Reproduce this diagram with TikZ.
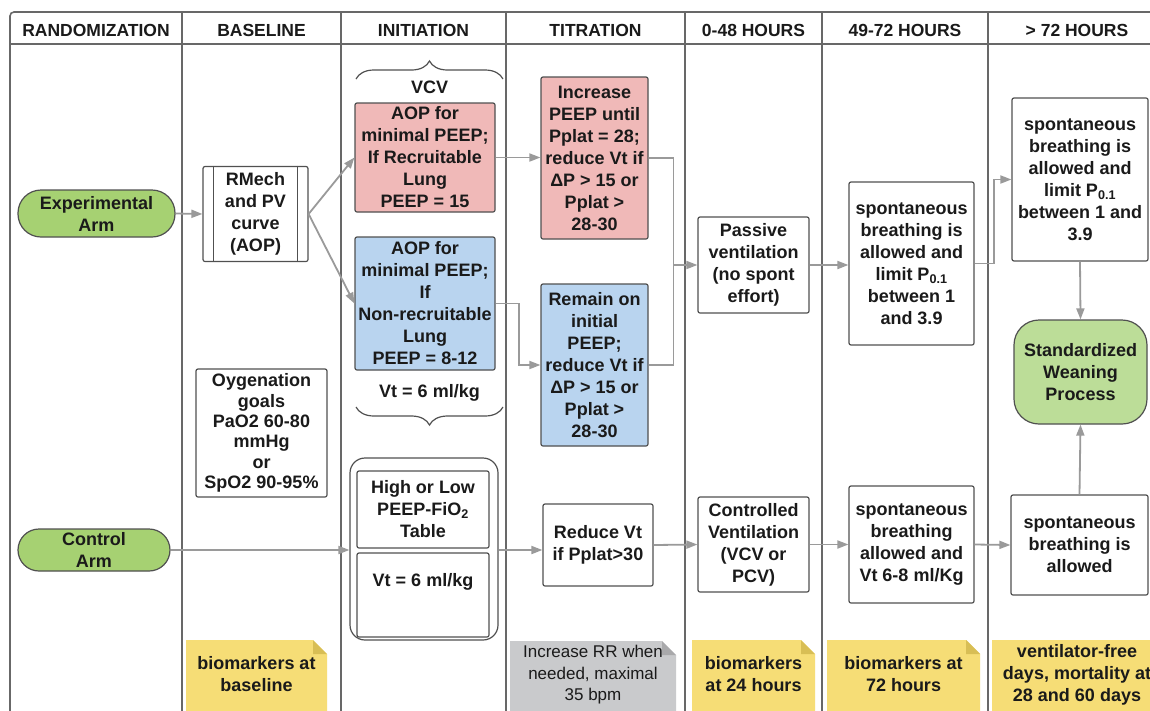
\documentclass[tikz,border=0pt]{standalone}
\usepackage{fontspec}
\setmainfont{Liberation Sans}
\usetikzlibrary{arrows.meta,decorations.pathreplacing}
\definecolor{framec}{HTML}{686868}
\definecolor{boxc}{HTML}{505050}
\definecolor{connc}{HTML}{9A9A9A}
\definecolor{txtc}{HTML}{1A1A1A}
\definecolor{redf}{HTML}{F0B9B8}
\definecolor{bluef}{HTML}{B9D4EF}
\definecolor{greenf}{HTML}{A6D172}
\definecolor{weanf}{HTML}{BCDD98}
\definecolor{yellowf}{HTML}{F6DD76}
\definecolor{yellowd}{HTML}{D8BE55}
\definecolor{grayf}{HTML}{C9CACC}
\definecolor{grayd}{HTML}{A9A9AB}
\begin{document}
\begin{tikzpicture}[x=1pt,y=-1pt,
  frameline/.style={draw=framec,line width=1.6pt},
  box/.style={draw=boxc,line width=1.2pt,rounded corners=2pt,align=center,inner sep=0pt,text=txtc,
    font=\bfseries\fontsize{18}{22}\selectfont},
  head/.style={text=txtc,font=\bfseries\fontsize{17.5}{20}\selectfont,inner sep=0pt},
  plain/.style={text=txtc,align=center,inner sep=0pt,font=\bfseries\fontsize{18}{22}\selectfont},
  notetxt/.style={text=txtc,align=center,inner sep=0pt,font=\bfseries\fontsize{18}{22}\selectfont},
  conn/.style={draw=connc,line width=1.8pt,-{Triangle[length=11pt,width=8pt]}},
  connl/.style={draw=connc,line width=1.8pt},
  bracec/.style={draw=boxc,line width=1.2pt,decorate,decoration={brace,amplitude=18pt}},
]
\useasboundingbox (0,0) rectangle (1150,710);
\clip (0,0) rectangle (1150,710);
\fill[white] (0,0) rectangle (1150,710);

% ---- frame ----
\draw[frameline,rounded corners=4pt] (10,720) -- (10,12) -- (1166,12) -- (1166,720);
\draw[frameline] (10,44) -- (1166,44);
\foreach \xx in {182,341,506,685,822,988}{\draw[frameline] (\xx,12) -- (\xx,720);}
\node[head] (h1) at (96,30) {RANDOMIZATION};
\node[head] (h2) at (261.5,30) {BASELINE};
\node[head] (h3) at (423.5,30) {INITIATION};
\node[head] (h4) at (595.5,30) {TITRATION};
\node[head] (h5) at (753.5,30) {0-48 HOURS};
\node[head] (h6) at (905,30) {49-72 HOURS};
\node[head] (h7) at (1077,30) {> 72 HOURS};

% ---- notes ----
\fill[yellowf] (186,640) -- (313,640) -- (327,654) -- (327,720) -- (186,720) -- cycle;
\fill[yellowd] (313,640) -- (327,654) -- (313,654) -- cycle;
\node[notetxt] (n1) at (256.5,674) {biomarkers at\\baseline};
\fill[grayf] (510,641) -- (662,641) -- (676,655) -- (676,720) -- (510,720) -- cycle;
\fill[grayd] (662,641) -- (676,655) -- (662,655) -- cycle;
\node[notetxt,font=\fontsize{17}{21.5}\selectfont] (n0) at (593,675) {Increase RR when\\needed, maximal\\35 bpm};
\fill[yellowf] (692,640) -- (801,640) -- (815,654) -- (815,720) -- (692,720) -- cycle;
\fill[yellowd] (801,640) -- (815,654) -- (801,654) -- cycle;
\node[notetxt] (n2) at (753.5,674) {biomarkers\\at 24 hours};
\fill[yellowf] (827,640) -- (966,640) -- (980,654) -- (980,720) -- (827,720) -- cycle;
\fill[yellowd] (966,640) -- (980,654) -- (966,654) -- cycle;
\node[notetxt] (n3) at (903.5,674) {biomarkers at\\72 hours};
\fill[yellowf] (992,640) -- (1150,640) -- (1162,652) -- (1162,720) -- (992,720) -- cycle;
\node[notetxt] (n4) at (1077,675) {ventilator-free\\days, mortality at\\28 and 60 days};

% ---- randomization ----
\node[box,fill=greenf,rounded corners=23pt,minimum width=157pt,minimum height=47pt] (exp) at (96.5,213.5) {Experimental\\Arm};
\node[box,fill=greenf,rounded corners=21pt,minimum width=152pt,minimum height=42pt] (ctrl) at (94,550) {Control\\Arm};

% ---- baseline ----
\node[box,fill=white,minimum width=105pt,minimum height=95pt] (rmech) at (255.5,214) {RMech\\and PV\\curve\\(AOP)};
\draw[draw=boxc,line width=1.2pt] ([xshift=11pt]rmech.north west) -- ([xshift=11pt]rmech.south west);
\draw[draw=boxc,line width=1.2pt] ([xshift=-11pt]rmech.north east) -- ([xshift=-11pt]rmech.south east);
\node[box,fill=white,minimum width=131pt,minimum height=128pt,font=\bfseries\fontsize{18}{20.3}\selectfont] (oxy) at (261.5,433) {Oygenation\\goals\\PaO2 60-80\\mmHg\\or\\SpO2 90-95\%};

% ---- initiation ----
\draw[bracec] (356,79) -- (503,79);
\node[plain] (vcv) at (429.5,87) {VCV};
\node[box,fill=redf,minimum width=140pt,minimum height=109pt] (red1) at (425,157.5) {AOP for\\minimal PEEP;\\If Recruitable\\Lung\\PEEP = 15};
\node[box,fill=bluef,minimum width=140pt,minimum height=133pt] (blue1) at (425,303.5) {AOP for\\minimal PEEP;\\If\\Non-recruitable\\Lung\\PEEP = 8-12};
\node[plain] (vt1) at (429.5,393) {Vt = 6 ml/kg};
\draw[bracec] (503,407) -- (356,407);
\node[box,fill=white,rounded corners=15pt,minimum width=148pt,minimum height=182pt] (cont) at (424,549) {};
\node[box,fill=white,minimum width=132pt,minimum height=77pt] (in1) at (423,509.5) {High or Low\\PEEP-FiO\textsubscript{2}\\Table};
\node[box,fill=white,minimum width=132pt,minimum height=84pt] (in2) at (423,595) {};
\node[plain] (vt2) at (423,582) {Vt = 6 ml/kg};

% ---- titration ----
\node[box,fill=redf,minimum width=107pt,minimum height=162pt] (red2) at (594.5,158) {Increase\\PEEP until\\Pplat = 28;\\reduce Vt if\\ΔP > 15 or\\Pplat >\\28-30};
\node[box,fill=bluef,minimum width=107pt,minimum height=162pt] (blue2) at (594.5,365) {Remain on\\initial\\PEEP;\\reduce Vt if\\ΔP > 15 or\\Pplat >\\28-30};
\node[box,fill=white,minimum width=110pt,minimum height=82pt] (reduce) at (598,545) {Reduce Vt\\if Pplat>30};

% ---- 0-48 ----
\node[box,fill=white,minimum width=111pt,minimum height=96pt] (passive) at (753.5,265) {Passive\\ventilation\\(no spont\\effort)};
\node[box,fill=white,minimum width=111pt,minimum height=95pt] (controlled) at (753.5,544.5) {Controlled\\Ventilation\\(VCV or\\PCV)};

% ---- 49-72 ----
\node[box,fill=white,minimum width=125pt,minimum height=163pt] (sb1) at (911.5,263.5) {spontaneous\\breathing is\\allowed and\\limit P\textsubscript{0.1}\\between 1\\and 3.9};
\node[box,fill=white,minimum width=125pt,minimum height=117pt] (sb2) at (911.5,544.5) {spontaneous\\breathing\\allowed and\\Vt 6-8 ml/Kg};

% ---- >72 ----
\node[box,fill=white,minimum width=136pt,minimum height=163pt] (sb3) at (1080,179.5) {spontaneous\\breathing is\\allowed and\\limit P\textsubscript{0.1}\\between 1 and\\3.9};
\node[box,fill=weanf,rounded corners=25pt,minimum width=133pt,minimum height=104pt] (wean) at (1080.5,372) {Standardized\\Weaning\\Process};
\node[box,fill=white,minimum width=137pt,minimum height=100pt] (sb4) at (1079.5,545) {spontaneous\\breathing is\\allowed};

% ---- connectors ----
\coordinate (j1) at (673.5,265);
\draw[conn] (exp.east) -- (rmech.west);
\draw[conn] (rmech.east) -- (red1.west);
\draw[conn] (rmech.east) -- (blue1.west);
\draw[conn] (red1.east) -- (red1.east -| red2.west);
\draw[conn] (blue1.east) -- ++(23,0) |- (blue2.west);
\draw[connl] (red2.east) -| (j1);
\draw[connl] (blue2.east) -| (j1);
\draw[conn] (j1) -- (passive.west);
\draw[conn] (passive.east) -- (passive.east -| sb1.west);
\draw[conn] (sb1.east) -- ++(19,0) |- (sb3.west);
\draw[conn] (sb3.south) -- (wean.north);
\draw[conn] (sb4.north) -- (wean.south);
\draw[conn] (ctrl.east) -- (ctrl.east -| cont.west);
\draw[conn] (cont.east |- ctrl.east) -- (ctrl.east -| reduce.west);
\draw[conn] (reduce.east) -- (controlled.west);
\draw[conn] (controlled.east) -- (sb2.west);
\draw[conn] (sb2.east) -- (sb4.west);
\end{tikzpicture}
\end{document}
